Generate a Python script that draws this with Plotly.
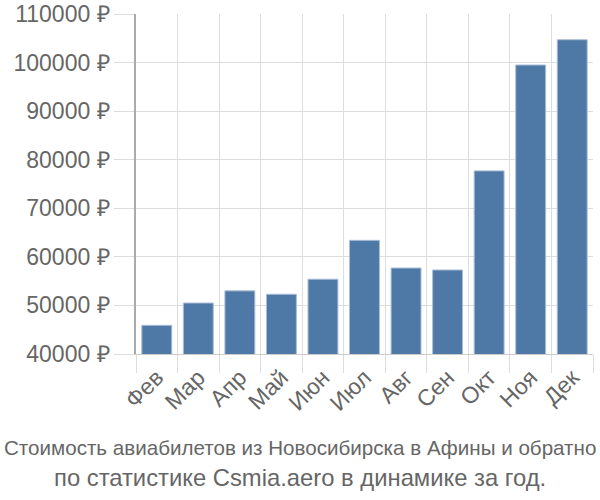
import plotly.graph_objects as go

months = ["Фев", "Мар", "Апр", "Май", "Июн", "Июл", "Авг", "Сен", "Окт", "Ноя", "Дек"]
prices = [45900, 50500, 53000, 52300, 55400, 63400, 57700, 57300, 77700, 99500, 104700]
y_ticks = [40000, 50000, 60000, 70000, 80000, 90000, 100000, 110000]
title_lines = ["Стоимость авиабилетов из Новосибирска в Афины и обратно",
               "по статистике Csmia.aero в динамике за год."]

fig = go.Figure()
fig.add_trace(go.Bar(
    x=months, y=prices,
    marker=dict(color="#4e79a7", line=dict(color="#a9bdd6", width=1)),
))

L, R, T, B = 136, 7, 14, 146
PH = 500 - T - B

fig.update_layout(
    width=600, height=500,
    margin=dict(l=L, r=R, t=T, b=B),
    paper_bgcolor="white", plot_bgcolor="white",
    bargap=0.28,
    showlegend=False,
    font=dict(family="Liberation Sans, Arial, sans-serif", color="#666666"),
    xaxis=dict(
        automargin=False,
        tickson="boundaries", ticks="outside", ticklen=18, tickcolor="#dddddd",
        showgrid=True, gridcolor="#dddddd", gridwidth=1,
        tickangle=-45, tickfont=dict(size=23, color="#666666"),
        showline=True, linecolor="#cccccc", linewidth=1,
    ),
    yaxis=dict(
        automargin=False,
        range=[40000, 110000], tickvals=y_ticks,
        ticktext=[f"{v} ₽" for v in y_ticks],
        ticks="outside", ticklen=20, tickcolor="#dddddd",
        showgrid=True, gridcolor="#dddddd", gridwidth=1,
        tickfont=dict(size=23, color="#666666"),
        showline=True, linecolor="#aaaaaa", linewidth=1.5,
        zeroline=False,
    ),
    annotations=[
        dict(text=title_lines[0], xref="paper", x=(300 - L) / (600 - L - R),
             xanchor="center", y=(500 - B - 447) / PH, yref="paper", yanchor="middle",
             showarrow=False, font=dict(size=20.6, color="#666666")),
        dict(text=title_lines[1], xref="paper", x=(300 - L) / (600 - L - R),
             xanchor="center", y=(500 - B - 477) / PH, yref="paper", yanchor="middle",
             showarrow=False, font=dict(size=23.8, color="#666666")),
    ],
)

fig.write_html("out.html", config={"displayModeBar": False},
               post_script="document.body.style.margin='0';")
